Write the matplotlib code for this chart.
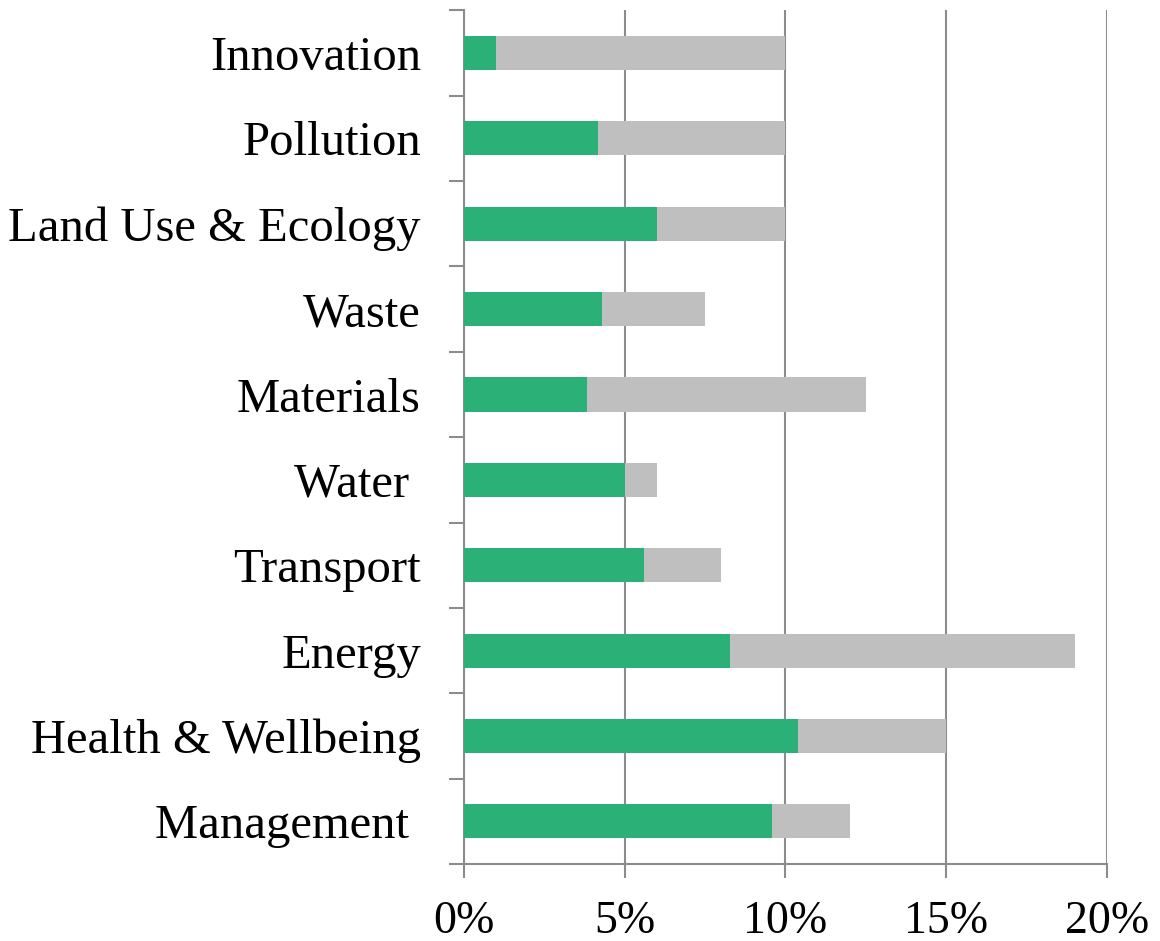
import matplotlib
matplotlib.use("Agg")
import matplotlib.pyplot as plt
import numpy as np
from matplotlib.ticker import FuncFormatter

plt.rcParams['font.family'] = ['Liberation Serif', 'DejaVu Serif']

# categories, bottom to top
categories = ["Management ", "Health & Wellbeing", "Energy", "Transport", "Water ",
              "Materials", "Waste", "Land Use & Ecology", "Pollution", "Innovation"]
achieved = [9.6, 10.4, 8.27, 5.6, 5.0, 3.83, 4.29, 6.0, 4.17, 1.0]
available = [12.0, 15.0, 19.0, 8.0, 6.0, 12.5, 7.5, 10.0, 10.0, 10.0]
remaining = [a - b for a, b in zip(available, achieved)]

green = "#2BB077"
grey = "#BFBFBF"
axis_grey = "#8C8C8C"

fig = plt.figure(figsize=(11.6, 9.41), dpi=100)
ax = fig.add_axes([0.4, 0.0818, 0.554, 0.9072])

y = np.arange(len(categories))
ax.barh(y, achieved, height=0.4, color=green, zorder=3)
ax.barh(y, remaining, left=achieved, height=0.4, color=grey, zorder=3)

ax.set_xlim(0, 20)
ax.set_ylim(-0.5, len(categories) - 0.5)
ax.set_xticks([0, 5, 10, 15, 20])
ax.xaxis.set_major_formatter(FuncFormatter(lambda v, p: f"{v:.0f}%"))
ax.xaxis.grid(True, color=axis_grey, linewidth=1.5, zorder=0)

ax.set_yticks(y)
ax.set_yticklabels(categories)
ax.set_yticks(np.arange(-0.5, len(categories), 1.0), minor=True)
ax.tick_params(axis='y', which='major', length=0, pad=31, labelsize=35)
ax.tick_params(axis='y', which='minor', length=11, width=1.5, color=axis_grey, direction='out')
ax.tick_params(axis='x', length=10, width=1.5, color=axis_grey, pad=16, labelsize=33)

for s in ["top", "right"]:
    ax.spines[s].set_visible(False)
for s in ["left", "bottom"]:
    ax.spines[s].set_color(axis_grey)
    ax.spines[s].set_linewidth(1.5)

fig.savefig("out.png", dpi=100, facecolor="white")
